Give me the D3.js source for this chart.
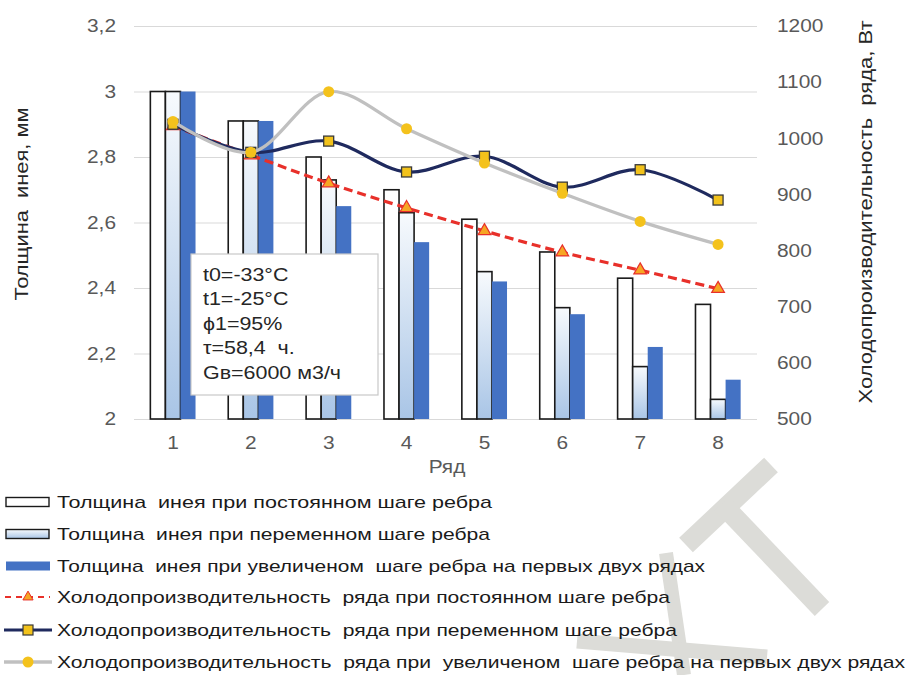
<!DOCTYPE html>
<html><head><meta charset="utf-8">
<script src="https://cdn.jsdelivr.net/npm/d3@7"></script>
<style>
html,body{margin:0;padding:0;background:#fff;}
text{font-family:"Liberation Sans",Arial,sans-serif;}
</style></head>
<body><svg id="c" width="907" height="675"></svg>
<script>
// ---- data ----
const rows = ["1","2","3","4","5","6","7","8"];
const frostConst = [3.00, 2.91, 2.80, 2.70, 2.61, 2.51, 2.43, 2.35];
const frostVar   = [3.00, 2.91, 2.73, 2.63, 2.45, 2.34, 2.16, 2.06];
const frostInc   = [3.00, 2.91, 2.65, 2.54, 2.42, 2.32, 2.22, 2.12];
const capConst = [1022, 970, 920, 876, 835, 797, 765, 732];
const capVar   = [1025, 975, 995, 940, 968, 913, 944, 890];
const capInc   = [1030, 975, 1083, 1017, 956, 902, 852, 811];
const leftTicks = [2, 2.2, 2.4, 2.6, 2.8, 3, 3.2];
const rightTicks = [500, 600, 700, 800, 900, 1000, 1100, 1200];
const legendLabels = [
  "Толщина  инея при постоянном шаге ребра",
  "Толщина  инея при переменном шаге ребра",
  "Толщина  инея при увеличеном  шаге ребра на первых двух рядах",
  "Холодопроизводительность  ряда при постоянном шаге ребра",
  "Холодопроизводительность  ряда при переменном шаге ребра",
  "Холодопроизводительность  ряда при  увеличеном  шаге ребра на первых двух рядах"
];
const noteLines = ["t0=-33°C", "t1=-25°C", "ϕ1=95%", "τ=58,4  ч.", "Gв=6000 м3/ч"];

// ---- chart ----
const svg = d3.select("#c");
const X0 = 134, X1 = 757, Y0 = 419, Y1 = 26;
const SX = 1.16;
const x = d3.scaleBand().domain(rows).range([X0, X1]).paddingInner(0.42).paddingOuter(0.21);
const xs = d3.scaleBand().domain([0,1,2]).range([0, x.bandwidth()]);
const yL = d3.scaleLinear().domain([2, 3.2]).range([Y0, Y1]);
const yR = d3.scaleLinear().domain([500, 1200]).range([Y0, Y1]);

const defs = svg.append("defs");
const grad = defs.append("linearGradient").attr("id","g1").attr("x1",0).attr("y1",0).attr("x2",0).attr("y2",1);
grad.append("stop").attr("offset","0%").attr("stop-color","#f7fafd");
grad.append("stop").attr("offset","100%").attr("stop-color","#a9c5e6");

function stretch(sel){
  sel.attr("transform", function(){
    const xx = +(this.getAttribute("x")||0);
    return `translate(${xx},0) scale(${SX},1) translate(${-xx},0)`;
  });
}

// watermark (decorative)
const wm = svg.append("g").attr("fill","none").attr("stroke","#dcdcd8").attr("stroke-width",20);
wm.append("path").attr("d","M686,545L771,465");
wm.append("path").attr("d","M722,504L822,609");
wm.append("path").attr("d","M666,553L684,675").attr("stroke-width",14);
wm.append("path").attr("d","M577,641L767,657").attr("stroke-width",15);

// left axis + grid
const gL = svg.append("g").attr("transform",`translate(${X0},0)`)
  .call(d3.axisLeft(yL).tickValues(leftTicks).tickSize(-(X1-X0)).tickPadding(18)
    .tickFormat(d => String(+d.toFixed(1)).replace(".", ",")));
gL.select(".domain").remove();
gL.selectAll(".tick line").attr("stroke","#d9d9d9").attr("stroke-width",1.2);
gL.selectAll("text").attr("fill","#595959").style("font-size","18px").call(stretch);

// right axis
const gR = svg.append("g").attr("transform",`translate(${X1},0)`)
  .call(d3.axisRight(yR).tickValues(rightTicks).tickSize(0).tickPadding(20).tickFormat(d3.format("d")));
gR.select(".domain").remove();
gR.selectAll("text").attr("fill","#595959").style("font-size","18px").call(stretch);

// x axis
const gX = svg.append("g").attr("transform",`translate(0,${Y0})`)
  .call(d3.axisBottom(x).tickSize(0).tickPadding(17));
gX.select(".domain").remove();
gX.selectAll("text").attr("fill","#595959").style("font-size","18px").call(stretch);

// bars
const barSeries = [
  {vals: frostConst, fill: "#ffffff", stroke: "#1a1a1a"},
  {vals: frostVar, fill: "url(#g1)", stroke: "#1a1a1a"},
  {vals: frostInc, fill: "#4472c4", stroke: "none"}
];
barSeries.forEach((s, i) => {
  svg.append("g").selectAll("rect").data(s.vals).join("rect")
    .attr("x", (d, j) => x(rows[j]) + xs(i))
    .attr("y", d => yL(d))
    .attr("width", xs.bandwidth())
    .attr("height", d => yL(2) - yL(d))
    .attr("fill", s.fill)
    .attr("stroke", s.stroke)
    .attr("stroke-width", 1.6);
});

// lines
const cx = j => x(rows[j]) + x.bandwidth()/2;
const lineGen = vals => d3.line().x((d, j) => cx(j)).y(d => yR(d)).curve(d3.curveCatmullRom.alpha(0.5))(vals);

// red dashed
svg.append("path").attr("d", lineGen(capConst)).attr("fill","none").attr("stroke","#e8302a")
  .attr("stroke-width",3.2).attr("stroke-dasharray","9,5");
svg.append("g").selectAll("path").data(capConst).join("path")
  .attr("d", d3.symbol().type(d3.symbolTriangle).size(70))
  .attr("transform", (d, j) => `translate(${cx(j)},${yR(d)})`)
  .attr("fill","#f6a623").attr("stroke","#e8302a").attr("stroke-width",1.2);

// navy
svg.append("path").attr("d", lineGen(capVar)).attr("fill","none").attr("stroke","#1f2a5e").attr("stroke-width",3.2);
svg.append("g").selectAll("rect").data(capVar).join("rect")
  .attr("x", (d, j) => cx(j) - 5).attr("y", d => yR(d) - 5)
  .attr("width",10).attr("height",10)
  .attr("fill","#f2c21b").attr("stroke","#3a3a3a").attr("stroke-width",1.3);

// gray
svg.append("path").attr("d", lineGen(capInc)).attr("fill","none").attr("stroke","#c0c0c0").attr("stroke-width",3.2);
svg.append("g").selectAll("circle").data(capInc).join("circle")
  .attr("cx", (d, j) => cx(j)).attr("cy", d => yR(d)).attr("r",5.5)
  .attr("fill","#f4c21c");

// note box
const note = svg.append("g");
note.append("rect").attr("x",191).attr("y",254).attr("width",187).attr("height",141)
  .attr("fill","#fff").attr("stroke","#c8c8c8").attr("stroke-width",1.2);
note.selectAll("text").data(noteLines).join("text")
  .attr("x",203).attr("y",(d,i) => 281 + i*24.5)
  .attr("fill","#262626").style("font-size","18.5px").style("white-space","pre")
  .text(d => d).call(stretch);

// axis titles
svg.append("text").attr("transform","translate(28,204) rotate(-90)")
  .attr("text-anchor","middle").attr("fill","#262626").style("font-size","18px").style("white-space","pre")
  .attr("textLength",193).attr("lengthAdjust","spacingAndGlyphs")
  .text("Толщина  инея, мм");
svg.append("text").attr("transform","translate(872,212) rotate(-90)")
  .attr("text-anchor","middle").attr("fill","#262626").style("font-size","18px").style("white-space","pre")
  .attr("textLength",383).attr("lengthAdjust","spacingAndGlyphs")
  .text("Холодопроизводительность  ряда, Вт");
svg.append("text").attr("x",447).attr("y",473).attr("text-anchor","middle")
  .attr("fill","#595959").style("font-size","18px").text("Ряд").call(stretch);

// legend
const legY = [502, 534, 566, 597, 630, 662];
const legLen = [435, 433, 648, 613, 620, 848];
const lg = svg.append("g");
legendLabels.forEach((t, i) => {
  const y = legY[i];
  if (i === 0) lg.append("rect").attr("x",6).attr("y",y-4.5).attr("width",43).attr("height",9).attr("fill","#fff").attr("stroke","#1a1a1a").attr("stroke-width",1.4);
  if (i === 1) lg.append("rect").attr("x",6).attr("y",y-4.5).attr("width",43).attr("height",9).attr("fill","url(#g1)").attr("stroke","#1a1a1a").attr("stroke-width",1.4);
  if (i === 2) lg.append("rect").attr("x",6).attr("y",y-4.5).attr("width",44).attr("height",9).attr("fill","#4472c4");
  if (i === 3) {
    lg.append("line").attr("x1",5).attr("x2",50).attr("y1",y).attr("y2",y).attr("stroke","#e8302a").attr("stroke-width",2).attr("stroke-dasharray","6,5");
    lg.append("path").attr("d", d3.symbol().type(d3.symbolTriangle).size(45)).attr("transform",`translate(28,${y})`).attr("fill","#f6a623").attr("stroke","#e8302a").attr("stroke-width",1);
  }
  if (i === 4) {
    lg.append("line").attr("x1",4).attr("x2",52).attr("y1",y).attr("y2",y).attr("stroke","#1f2a5e").attr("stroke-width",3);
    lg.append("rect").attr("x",23).attr("y",y-5).attr("width",10).attr("height",10).attr("fill","#f2c21b").attr("stroke","#3a3a3a").attr("stroke-width",1.2);
  }
  if (i === 5) {
    lg.append("line").attr("x1",4).attr("x2",52).attr("y1",y).attr("y2",y).attr("stroke","#c0c0c0").attr("stroke-width",3.5);
    lg.append("circle").attr("cx",28).attr("cy",y).attr("r",5.5).attr("fill","#f4c21c");
  }
  lg.append("text").attr("x",57).attr("y",y+6).attr("fill","#1a1a1a").style("font-size","17px").style("white-space","pre")
    .attr("textLength",legLen[i]).attr("lengthAdjust","spacingAndGlyphs").text(t);
});
</script></body></html>
